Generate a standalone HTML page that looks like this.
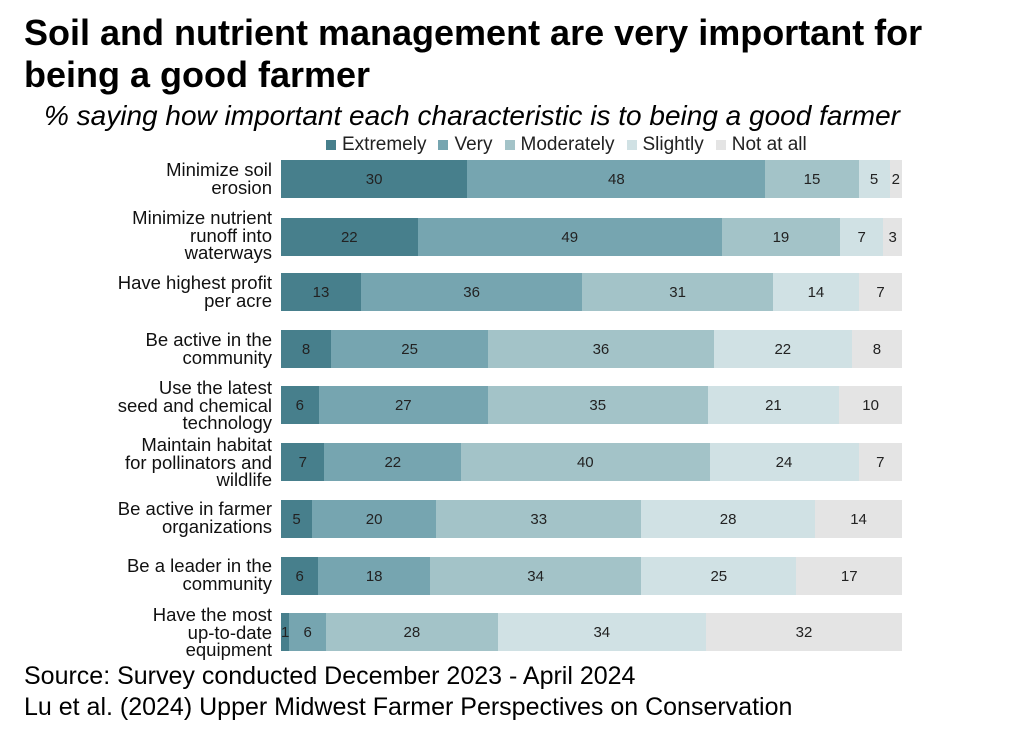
<!DOCTYPE html>
<html><head><meta charset="utf-8"><style>
body{margin:0;width:1024px;height:739px;background:#fff;font-family:"Liberation Sans",sans-serif;position:relative;overflow:hidden}
.t{position:absolute;left:24px;top:12px;font-size:36px;font-weight:bold;line-height:42px;color:#000;white-space:nowrap}
.s{position:absolute;left:44px;top:100px;font-size:28px;font-style:italic;color:#000;white-space:nowrap}
.lg{position:absolute;left:326px;top:134px;font-size:19px;color:#222;display:flex;gap:12px;align-items:center;white-space:nowrap}
.lg i{display:inline-block;width:10px;height:10px;margin-right:6px}
.row{position:absolute;left:281px;width:621px;height:38px;display:flex}
.row div{display:flex;align-items:center;justify-content:center;font-size:15px;color:#222;overflow:visible;white-space:nowrap}
.lab{position:absolute;right:752px;text-align:right;font-size:18.5px;line-height:17.5px;color:#111;white-space:nowrap}
.a{background:#477f8c}.b{background:#76a5b0}.c{background:#a3c3c8}.d{background:#d0e1e4}.e{background:#e4e4e4}
.f{position:absolute;left:24px;font-size:25px;color:#000;white-space:nowrap}
</style></head><body>
<div class="t">Soil and nutrient management are very important for<br>being a good farmer</div>
<div class="s">% saying how important each characteristic is to being a good farmer</div>
<div class="lg"><span><i class="a"></i>Extremely</span><span><i class="b"></i>Very</span><span><i class="c"></i>Moderately</span><span><i class="d"></i>Slightly</span><span><i class="e"></i>Not at all</span></div>

<div class="lab" style="top:161px">Minimize soil<br>erosion</div>
<div class="row" style="top:160px"><div class="a" style="flex:30">30</div><div class="b" style="flex:48">48</div><div class="c" style="flex:15">15</div><div class="d" style="flex:5">5</div><div class="e" style="flex:2">2</div></div>

<div class="lab" style="top:209px">Minimize nutrient<br>runoff into<br>waterways</div>
<div class="row" style="top:218px"><div class="a" style="flex:22">22</div><div class="b" style="flex:49">49</div><div class="c" style="flex:19">19</div><div class="d" style="flex:7">7</div><div class="e" style="flex:3">3</div></div>

<div class="lab" style="top:274px">Have highest profit<br>per acre</div>
<div class="row" style="top:273px"><div class="a" style="flex:13">13</div><div class="b" style="flex:36">36</div><div class="c" style="flex:31">31</div><div class="d" style="flex:14">14</div><div class="e" style="flex:7">7</div></div>

<div class="lab" style="top:331px">Be active in the<br>community</div>
<div class="row" style="top:330px"><div class="a" style="flex:8">8</div><div class="b" style="flex:25">25</div><div class="c" style="flex:36">36</div><div class="d" style="flex:22">22</div><div class="e" style="flex:8">8</div></div>

<div class="lab" style="top:379px">Use the latest<br>seed and chemical<br>technology</div>
<div class="row" style="top:386px"><div class="a" style="flex:6">6</div><div class="b" style="flex:27">27</div><div class="c" style="flex:35">35</div><div class="d" style="flex:21">21</div><div class="e" style="flex:10">10</div></div>

<div class="lab" style="top:436px">Maintain habitat<br>for pollinators and<br>wildlife</div>
<div class="row" style="top:443px"><div class="a" style="flex:7">7</div><div class="b" style="flex:22">22</div><div class="c" style="flex:40">40</div><div class="d" style="flex:24">24</div><div class="e" style="flex:7">7</div></div>

<div class="lab" style="top:500px">Be active in farmer<br>organizations</div>
<div class="row" style="top:500px"><div class="a" style="flex:5">5</div><div class="b" style="flex:20">20</div><div class="c" style="flex:33">33</div><div class="d" style="flex:28">28</div><div class="e" style="flex:14">14</div></div>

<div class="lab" style="top:557px">Be a leader in the<br>community</div>
<div class="row" style="top:557px"><div class="a" style="flex:6">6</div><div class="b" style="flex:18">18</div><div class="c" style="flex:34">34</div><div class="d" style="flex:25">25</div><div class="e" style="flex:17">17</div></div>

<div class="lab" style="top:606px">Have the most<br>up-to-date<br>equipment</div>
<div class="row" style="top:613px"><div class="a" style="flex:0.6;justify-content:flex-start">1</div><div class="b" style="flex:6">6</div><div class="c" style="flex:28">28</div><div class="d" style="flex:34">34</div><div class="e" style="flex:32">32</div></div>

<div class="f" style="top:662px">Source: Survey conducted December 2023 - April 2024</div>
<div class="f" style="top:693px">Lu et al. (2024) Upper Midwest Farmer Perspectives on Conservation</div>
</body></html>
